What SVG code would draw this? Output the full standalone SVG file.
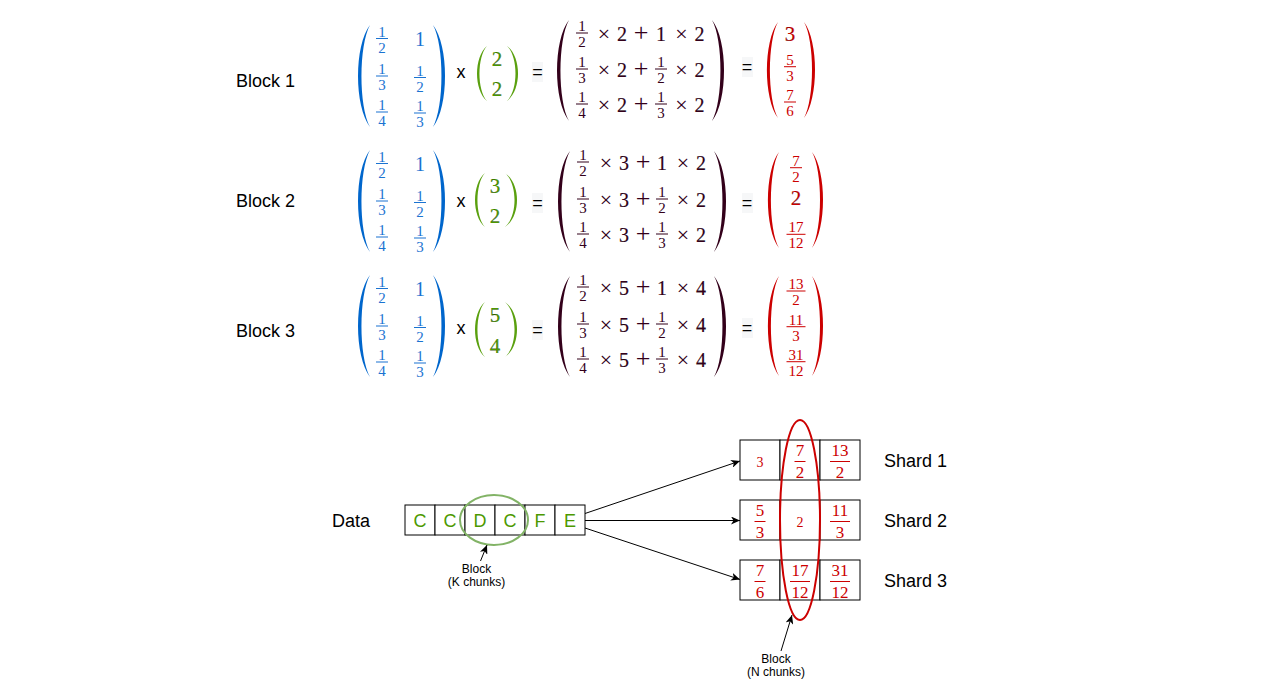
<svg xmlns="http://www.w3.org/2000/svg" width="1271" height="681" viewBox="0 0 1271 681">
<style>
.lbl{font-family:"Liberation Sans",Arial,sans-serif;font-size:18px;fill:#000}
.sm{font-family:"Liberation Sans",Arial,sans-serif;font-size:12px;fill:#000;text-anchor:middle}
.m{font-family:"Liberation Serif","Times New Roman",serif;text-anchor:middle}
.f{font-size:15px}
.b{font-size:20px}
.tm{font-size:22px}
.pl{font-size:26px}
.g20{font-size:21px}
.c17{font-size:17px}
.c14{font-size:14px}
.blue{fill:#1a73d1}
.bp{fill:#0066cc}
.grn{fill:#4d9900}
.gp{fill:#5aa00f}
.dk{fill:#33001a}
.red{fill:#cc0000}
.b text,.g20 text,text.g20{stroke-width:.15;stroke:currentColor}
.eqbg{fill:#f6f7f8}
.cell{fill:#fff;stroke:#000;stroke-width:1}
.conn{stroke:#000;stroke-width:1;fill:none}
</style>
<defs>
<marker id="arr" markerUnits="userSpaceOnUse" markerWidth="10" markerHeight="8" refX="9" refY="4" orient="auto">
<path d="M0,0 L9,4 L0,8 L2.5,4 Z" fill="#000"/>
</marker>
</defs>
<rect width="1271" height="681" fill="#fff"/>

<!-- Block 1 -->
<g id="block1">
<text class="lbl" x="236" y="87">Block 1</text>
<path class="bp" d="M370,25 C354,45.4 354,106.6 370,127 C358.7,106.6 358.7,45.4 370,25Z"/>
<path class="bp" d="M433,25 C449,45.4 449,106.6 433,127 C444.3,106.6 444.3,45.4 433,25Z"/>
<g class="m f blue">
<text x="382" y="36.5">1</text><rect x="376" y="38" width="12" height="1"/><text x="382" y="52.5">2</text>
<text x="382" y="74">1</text><rect x="376" y="75.5" width="12" height="1"/><text x="382" y="90">3</text>
<text x="382" y="110">1</text><rect x="376" y="111.5" width="12" height="1"/><text x="382" y="126">4</text>
<text x="420" y="75.5">1</text><rect x="414" y="77" width="12" height="1"/><text x="420" y="91.5">2</text>
<text x="420" y="111">1</text><rect x="414" y="112.5" width="12" height="1"/><text x="420" y="127">3</text>
</g>
<text class="m blue" style="font-size:20px" x="420" y="46">1</text>
<text class="lbl" x="461" y="78" text-anchor="middle">x</text>
<path class="gp" d="M487,46 C473.7,57 473.7,90 487,101 C477,90 477,57 487,46Z"/>
<path class="gp" d="M507,46 C521.7,57 521.7,90 507,101 C518.3,90 518.3,57 507,46Z"/>
<g class="m g20 grn"><text x="497" y="66">2</text><text x="497" y="96">2</text></g>
<rect class="eqbg" x="532" y="62" width="11" height="20"/>
<text class="lbl" x="537.5" y="78" text-anchor="middle">=</text>
<path class="dk" d="M569,20 C553,40.2 553,100.8 569,121 C557.7,100.8 557.7,40.2 569,20Z"/>
<path class="dk" d="M712,20 C728,40.2 728,100.8 712,121 C723.3,100.8 723.3,40.2 712,20Z"/>
<g class="m f dk">
<text x="582" y="31">1</text><rect x="576" y="32.5" width="12" height="1"/><text x="582" y="47">2</text>
<text x="582" y="67">1</text><rect x="576" y="68.5" width="12" height="1"/><text x="582" y="83">3</text>
<text x="661" y="67">1</text><rect x="655" y="68.5" width="12" height="1"/><text x="661" y="83">2</text>
<text x="582" y="102">1</text><rect x="576" y="103.5" width="12" height="1"/><text x="582" y="118">4</text>
<text x="661" y="102">1</text><rect x="655" y="103.5" width="12" height="1"/><text x="661" y="118">3</text>
</g>
<g class="m b dk">
<text x="622" y="41">2</text><text x="661" y="41">1</text><text x="699.5" y="41">2</text>
<text x="622" y="77">2</text><text x="699.5" y="77">2</text>
<text x="622" y="112">2</text><text x="699.5" y="112">2</text>
</g>
<g class="m tm dk">
<text x="604" y="41">×</text><text x="681.5" y="41">×</text>
<text x="604" y="77">×</text><text x="681.5" y="77">×</text>
<text x="604" y="112">×</text><text x="681.5" y="112">×</text>
</g>
<g class="m pl dk">
<text x="641" y="41">+</text><text x="641" y="77">+</text><text x="641" y="112">+</text>
</g>
<rect class="eqbg" x="742" y="57" width="11" height="20"/>
<text class="lbl" x="747" y="73" text-anchor="middle">=</text>
<path class="red" d="M778,22 C763.3,41.2 763.3,98.8 778,118 C767.3,98.8 767.3,41.2 778,22Z"/>
<path class="red" d="M804,22 C818.7,41.2 818.7,98.8 804,118 C814.7,98.8 814.7,41.2 804,22Z"/>
<text class="m g20 red" x="790" y="41">3</text>
<g class="m f red">
<text x="790" y="64.7">5</text><rect x="784" y="66.2" width="12" height="1"/><text x="790" y="80.7">3</text>
<text x="790" y="100">7</text><rect x="784" y="101.5" width="12" height="1"/><text x="790" y="116">6</text>
</g>
</g>

<!-- Block 2 -->
<g id="block2">
<text class="lbl" x="236" y="207">Block 2</text>
<path class="bp" d="M370,150 C354,170.4 354,231.6 370,252 C358.7,231.6 358.7,170.4 370,150Z"/>
<path class="bp" d="M433,150 C449,170.4 449,231.6 433,252 C444.3,231.6 444.3,170.4 433,150Z"/>
<g class="m f blue">
<text x="382" y="161.5">1</text><rect x="376" y="163" width="12" height="1"/><text x="382" y="177.5">2</text>
<text x="382" y="199">1</text><rect x="376" y="200.5" width="12" height="1"/><text x="382" y="215">3</text>
<text x="382" y="235">1</text><rect x="376" y="236.5" width="12" height="1"/><text x="382" y="251">4</text>
<text x="420" y="200.5">1</text><rect x="414" y="202" width="12" height="1"/><text x="420" y="216.5">2</text>
<text x="420" y="236">1</text><rect x="414" y="237.5" width="12" height="1"/><text x="420" y="252">3</text>
</g>
<text class="m blue" style="font-size:20px" x="420" y="171">1</text>
<text class="lbl" x="461" y="207" text-anchor="middle">x</text>
<path class="gp" d="M485,173 C471.7,183.8 471.7,216.2 485,227 C475,216.2 475,183.8 485,173Z"/>
<path class="gp" d="M505,173 C521,183.8 521,216.2 505,227 C517.7,216.2 517.7,183.8 505,173Z"/>
<g class="m g20 grn"><text x="495" y="193">3</text><text x="495" y="223">2</text></g>
<rect class="eqbg" x="532" y="193" width="11" height="20"/>
<text class="lbl" x="537.5" y="209" text-anchor="middle">=</text>
<path class="dk" d="M570,151 C554,171.2 554,231.8 570,252 C558.7,231.8 558.7,171.2 570,151Z"/>
<path class="dk" d="M714,151 C730,171.2 730,231.8 714,252 C725.3,231.8 725.3,171.2 714,151Z"/>
<g class="m f dk">
<text x="583" y="160">1</text><rect x="577" y="161.5" width="12" height="1"/><text x="583" y="176">2</text>
<text x="583" y="197">1</text><rect x="577" y="198.5" width="12" height="1"/><text x="583" y="213">3</text>
<text x="662" y="197">1</text><rect x="656" y="198.5" width="12" height="1"/><text x="662" y="213">2</text>
<text x="583" y="232">1</text><rect x="577" y="233.5" width="12" height="1"/><text x="583" y="248">4</text>
<text x="662" y="232">1</text><rect x="656" y="233.5" width="12" height="1"/><text x="662" y="248">3</text>
</g>
<g class="m b dk">
<text x="624" y="170">3</text><text x="662" y="170">1</text><text x="701" y="170">2</text>
<text x="624" y="207">3</text><text x="701" y="207">2</text>
<text x="624" y="242">3</text><text x="701" y="242">2</text>
</g>
<g class="m tm dk">
<text x="606" y="170">×</text><text x="683" y="170">×</text>
<text x="606" y="207">×</text><text x="683" y="207">×</text>
<text x="606" y="242">×</text><text x="683" y="242">×</text>
</g>
<g class="m pl dk">
<text x="643" y="170">+</text><text x="643" y="207">+</text><text x="643" y="242">+</text>
</g>
<rect class="eqbg" x="742" y="193" width="11" height="20"/>
<text class="lbl" x="747" y="209" text-anchor="middle">=</text>
<path class="red" d="M779,152 C764.3,171.2 764.3,228.8 779,248 C768.3,228.8 768.3,171.2 779,152Z"/>
<path class="red" d="M812,152 C826.7,171.2 826.7,228.8 812,248 C822.7,228.8 822.7,171.2 812,152Z"/>
<text class="m g20 red" x="796" y="205">2</text>
<g class="m f red">
<text x="796" y="165.7">7</text><rect x="790" y="167.2" width="12" height="1"/><text x="796" y="181.7">2</text>
<text x="796" y="232.3">17</text><rect x="786.5" y="233.8" width="19" height="1"/><text x="796" y="248.3">12</text>
</g>
</g>

<!-- Block 3 -->
<g id="block3">
<text class="lbl" x="236" y="337">Block 3</text>
<path class="bp" d="M370,275 C354,295.4 354,356.6 370,377 C358.7,356.6 358.7,295.4 370,275Z"/>
<path class="bp" d="M433,275 C449,295.4 449,356.6 433,377 C444.3,356.6 444.3,295.4 433,275Z"/>
<g class="m f blue">
<text x="382" y="286.5">1</text><rect x="376" y="288" width="12" height="1"/><text x="382" y="302.5">2</text>
<text x="382" y="324">1</text><rect x="376" y="325.5" width="12" height="1"/><text x="382" y="340">3</text>
<text x="382" y="360">1</text><rect x="376" y="361.5" width="12" height="1"/><text x="382" y="376">4</text>
<text x="420" y="325.5">1</text><rect x="414" y="327" width="12" height="1"/><text x="420" y="341.5">2</text>
<text x="420" y="361">1</text><rect x="414" y="362.5" width="12" height="1"/><text x="420" y="377">3</text>
</g>
<text class="m blue" style="font-size:20px" x="420" y="296">1</text>
<text class="lbl" x="461" y="334" text-anchor="middle">x</text>
<path class="gp" d="M485,302 C471.7,313 471.7,346 485,357 C475,346 475,313 485,302Z"/>
<path class="gp" d="M505,302 C521,313 521,346 505,357 C517.7,346 517.7,313 505,302Z"/>
<g class="m g20 grn"><text x="495" y="322">5</text><text x="495" y="353">4</text></g>
<rect class="eqbg" x="532" y="320" width="11" height="20"/>
<text class="lbl" x="537.5" y="336" text-anchor="middle">=</text>
<path class="dk" d="M570,276 C554,296.2 554,356.8 570,377 C558.7,356.8 558.7,296.2 570,276Z"/>
<path class="dk" d="M714,276 C730,296.2 730,356.8 714,377 C725.3,356.8 725.3,296.2 714,276Z"/>
<g class="m f dk">
<text x="583" y="285">1</text><rect x="577" y="286.5" width="12" height="1"/><text x="583" y="301">2</text>
<text x="583" y="322">1</text><rect x="577" y="323.5" width="12" height="1"/><text x="583" y="338">3</text>
<text x="662" y="322">1</text><rect x="656" y="323.5" width="12" height="1"/><text x="662" y="338">2</text>
<text x="583" y="357">1</text><rect x="577" y="358.5" width="12" height="1"/><text x="583" y="373">4</text>
<text x="662" y="357">1</text><rect x="656" y="358.5" width="12" height="1"/><text x="662" y="373">3</text>
</g>
<g class="m b dk">
<text x="624" y="295">5</text><text x="662" y="295">1</text><text x="701" y="295">4</text>
<text x="624" y="332">5</text><text x="701" y="332">4</text>
<text x="624" y="367">5</text><text x="701" y="367">4</text>
</g>
<g class="m tm dk">
<text x="606" y="295">×</text><text x="683" y="295">×</text>
<text x="606" y="332">×</text><text x="683" y="332">×</text>
<text x="606" y="367">×</text><text x="683" y="367">×</text>
</g>
<g class="m pl dk">
<text x="643" y="295">+</text><text x="643" y="332">+</text><text x="643" y="367">+</text>
</g>
<rect class="eqbg" x="742" y="318" width="11" height="20"/>
<text class="lbl" x="747" y="334" text-anchor="middle">=</text>
<path class="red" d="M779,276 C764.3,296 764.3,356 779,376 C768.3,356 768.3,296 779,276Z"/>
<path class="red" d="M812,276 C826.7,296 826.7,356 812,376 C822.7,356 822.7,296 812,276Z"/>
<g class="m f red">
<text x="796" y="289">13</text><rect x="786.5" y="290.5" width="19" height="1"/><text x="796" y="305">2</text>
<text x="796" y="324.7">11</text><rect x="786.5" y="326.2" width="19" height="1"/><text x="796" y="340.7">3</text>
<text x="796" y="359.7">31</text><rect x="786.5" y="361.2" width="19" height="1"/><text x="796" y="375.7">12</text>
</g>
</g>

<!-- Data -->
<g id="data">
<text class="lbl" x="332" y="527">Data</text>
<rect class="cell" x="405" y="505" width="30" height="30"/>
<rect class="cell" x="435" y="505" width="30" height="30"/>
<rect class="cell" x="465" y="505" width="30" height="30"/>
<rect class="cell" x="495" y="505" width="30" height="30"/>
<rect class="cell" x="525" y="505" width="30" height="30"/>
<rect class="cell" x="555" y="505" width="30" height="30"/>
<g class="lbl grn" text-anchor="middle">
<text x="420" y="527">C</text><text x="450" y="527">C</text><text x="480" y="527">D</text><text x="510" y="527">C</text><text x="540" y="527">F</text><text x="570" y="527">E</text>
</g>
</g>
<g id="block-k">
<ellipse cx="494" cy="520" rx="34" ry="25" fill="none" stroke="#82b366" stroke-width="2"/>
<text class="sm" x="476.5" y="573">Block</text>
<text class="sm" x="476.5" y="586">(K chunks)</text>
</g>

<!-- Shards -->
<g id="shard1">
<rect class="cell" x="740" y="440" width="40" height="40"/>
<rect class="cell" x="780" y="440" width="40" height="40"/>
<rect class="cell" x="820" y="440" width="40" height="40"/>
<text class="m c14 red" x="760" y="467">3</text>
<g class="m c17 red">
<text x="800" y="455.5">7</text><rect x="794.5" y="461" width="11" height="1"/><text x="800" y="478">2</text>
<text x="840" y="455.5">13</text><rect x="830" y="461" width="20" height="1"/><text x="840" y="478">2</text>
</g>
<text class="lbl" x="884" y="467">Shard 1</text>
</g>
<g id="shard2">
<rect class="cell" x="740" y="500" width="40" height="40"/>
<rect class="cell" x="780" y="500" width="40" height="40"/>
<rect class="cell" x="820" y="500" width="40" height="40"/>
<text class="m c14 red" x="800" y="527">2</text>
<g class="m c17 red">
<text x="760" y="515.5">5</text><rect x="754.5" y="521" width="11" height="1"/><text x="760" y="538">3</text>
<text x="840" y="515.5">11</text><rect x="830" y="521" width="20" height="1"/><text x="840" y="538">3</text>
</g>
<text class="lbl" x="884" y="527">Shard 2</text>
</g>
<g id="shard3">
<rect class="cell" x="740" y="560" width="40" height="40"/>
<rect class="cell" x="780" y="560" width="40" height="40"/>
<rect class="cell" x="820" y="560" width="40" height="40"/>
<g class="m c17 red">
<text x="760" y="575.5">7</text><rect x="754.5" y="581" width="11" height="1"/><text x="760" y="598">6</text>
<text x="800" y="575.5">17</text><rect x="790" y="581" width="20" height="1"/><text x="800" y="598">12</text>
<text x="840" y="575.5">31</text><rect x="830" y="581" width="20" height="1"/><text x="840" y="598">12</text>
</g>
<text class="lbl" x="884" y="587">Shard 3</text>
</g>
<g id="block-n">
<ellipse cx="800" cy="520" rx="20" ry="100" fill="none" stroke="#cc0000" stroke-width="2"/>
<text class="sm" x="776" y="663">Block</text>
<text class="sm" x="776" y="676">(N chunks)</text>
</g>

<!-- Connectors -->
<g id="connectors">
<line class="conn" x1="585" y1="513.5" x2="740" y2="461" marker-end="url(#arr)"/>
<line class="conn" x1="585" y1="520.5" x2="740" y2="520.5" marker-end="url(#arr)"/>
<line class="conn" x1="585" y1="528" x2="740" y2="579.5" marker-end="url(#arr)"/>
<line class="conn" x1="480.5" y1="561" x2="487" y2="545" marker-end="url(#arr)"/>
<line class="conn" x1="781" y1="651" x2="792" y2="615" marker-end="url(#arr)"/>
</g>
</svg>
